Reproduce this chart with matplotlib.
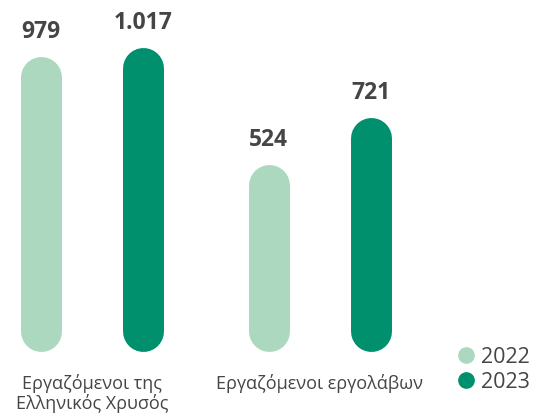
import matplotlib
matplotlib.use('Agg')
import matplotlib.pyplot as plt
from matplotlib.transforms import offset_copy
from matplotlib.lines import Line2D
import numpy as np

categories = ['Εργαζόμενοι της\nΕλληνικός Χρυσός', 'Εργαζόμενοι εργολάβων']
years = ['2022', '2023']
values_2022 = [979, 524]
values_2023 = [1017, 721]
value_labels_2022 = ['979', '524']
value_labels_2023 = ['1.017', '721']

colors = ['#ADD8C0', '#00906E']
text_color = '#454545'

plt.rcParams['font.family'] = ['Open Sans', 'DejaVu Sans']

fig = plt.figure(figsize=(5.35, 4.15), dpi=100)
ax = fig.add_axes([0, 0, 1, 1])
ax.set_xlim(-0.4035, 1.943)
ax.set_ylim(-530, 1217)
ax.axis('off')

bar_lw = 29.5          # points, about 41 px wide
offsets = [-0.225, 0.225]
base = -90
trans = offset_copy(ax.transData, fig=fig, y=-bar_lw / 2, units='points')
label_trans = offset_copy(ax.transData, fig=fig, y=9, units='points')

x = np.arange(len(categories))
for series, labels, color, off in zip([values_2022, values_2023],
                                      [value_labels_2022, value_labels_2023],
                                      colors, offsets):
    for xi, v, lab in zip(x, series, labels):
        ax.plot([xi + off, xi + off], [base, v], transform=trans, lw=bar_lw,
                solid_capstyle='round', color=color)
        ax.text(xi + off, v, lab, transform=label_trans, ha='center', va='bottom',
                fontsize=16.5, fontweight='bold', color=text_color)

for xi, cat in zip(x, categories):
    ax.text(xi + 0.0, 0.1, cat, transform=ax.get_xaxis_transform(), ha='center',
            va='top', fontsize=13, color=text_color, linespacing=1.1)

handles = [Line2D([], [], marker='o', ls='', markersize=11, color=c) for c in colors]
ax.legend(handles, years, loc='upper left', bbox_to_anchor=(0.855, 0.165),
          frameon=False, fontsize=15.5, labelcolor=text_color, handlelength=0.8,
          handletextpad=0.3, labelspacing=0.2, borderpad=0, borderaxespad=0)

fig.savefig('out.png', dpi=100)
